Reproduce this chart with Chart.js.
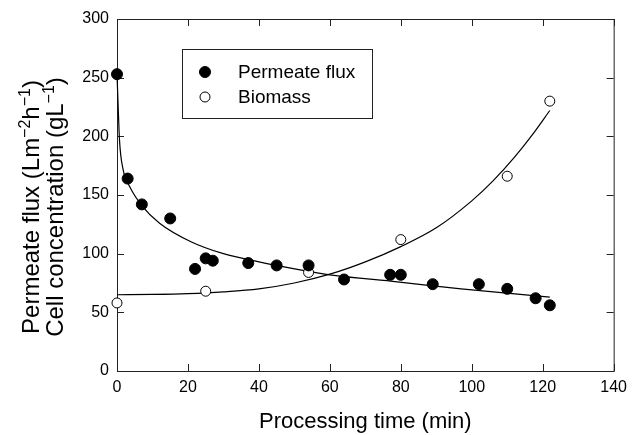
<!DOCTYPE html>
<html>
<head>
<meta charset="utf-8">
<script src="https://cdn.jsdelivr.net/npm/chart.js@4.4.1/dist/chart.umd.min.js"></script>
<style>
  html, body { margin: 0; padding: 0; background: #fff; }
  #wrap { width: 634px; height: 435px; }
</style>
</head>
<body>
<div id="wrap"><canvas id="flux-chart" width="634" height="435"></canvas></div>
<script>
// measured points
const fluxTime  = [0, 3, 7, 15, 22, 25, 27, 37, 45, 54, 64, 77, 80, 89, 102, 110, 118, 122];
const fluxValue = [253, 164, 142, 130, 87, 96, 94, 92, 90, 90, 78, 82, 82, 74, 74, 70, 62, 56];

const biomassTime  = [0, 25, 54, 80, 110, 122];
const biomassValue = [58, 68, 84, 112, 166, 230];

// fitted curves, sampled along the drawn lines
const fluxFitTime  = [0, 0.3, 0.7, 1.7, 3.6, 7, 12, 21, 30, 40, 52, 60, 79, 97, 122];
const fluxFitValue = [253, 228, 197, 172, 157, 141, 126, 110, 100, 93, 86, 82, 76, 70, 63];

const biomassFitTime  = [0, 10, 20, 30, 40, 50, 60, 70, 80, 90, 100, 106, 112, 117, 122];
const biomassFitValue = [65, 65.3, 66, 67.5, 70, 75, 82.5, 93, 106, 122, 145, 162, 182, 201, 222];

const timeTicks  = [0, 20, 40, 60, 80, 100, 120, 140];
const valueTicks = [0, 50, 100, 150, 200, 250, 300];

const FONT = "'Liberation Sans', Arial, Helvetica, sans-serif";

// y title: [text, superscript?]
const yTitleLines = [
  [['Permeate flux (Lm', false], ['\u22122', true], ['h', false], ['\u22121', true], [')', false]],
  [['Cell concentration (gL', false], ['\u22121', true], [')', false]]
];

function pairs(xs, ys) {
  return xs.map((x, i) => ({ x: x, y: ys[i] }));
}

// box around the plot + inward ticks on all four sides
const frameTicks = {
  id: 'frameTicks',
  beforeDatasetsDraw(chart) {
    const { ctx, chartArea: a, scales } = chart;
    const len = 7;
    ctx.save();
    ctx.strokeStyle = '#222';
    ctx.lineWidth = 1;
    ctx.strokeRect(a.left + 0.5, a.top + 0.5, a.right - a.left, a.bottom - a.top);
    ctx.beginPath();
    timeTicks.forEach(v => {
      const px = Math.round(scales.x.getPixelForValue(v)) + 0.5;
      ctx.moveTo(px, a.bottom); ctx.lineTo(px, a.bottom - len);
      ctx.moveTo(px, a.top); ctx.lineTo(px, a.top + len);
    });
    valueTicks.forEach(v => {
      const py = Math.round(scales.y.getPixelForValue(v)) + 0.5;
      ctx.moveTo(a.left, py); ctx.lineTo(a.left + len, py);
      ctx.moveTo(a.right, py); ctx.lineTo(a.right - len, py);
    });
    ctx.stroke();
    ctx.restore();
  }
};

// legend in a box inside the plot
const legendBox = {
  id: 'legendBox',
  afterDraw(chart) {
    const { ctx, chartArea: a } = chart;
    const left = a.left + 65, top = a.top + 30, w = 190, h = 69;
    ctx.save();
    ctx.fillStyle = '#fff';
    ctx.fillRect(left, top, w, h);
    ctx.strokeStyle = '#222';
    ctx.lineWidth = 1;
    ctx.strokeRect(left + 0.5, top + 0.5, w, h);
    [0, 1].forEach((i, row) => {
      const ds = chart.data.datasets[i];
      const cy = top + 23 + row * 25;
      ctx.beginPath();
      ctx.arc(left + 23, cy, ds.pointRadius, 0, Math.PI * 2);
      ctx.fillStyle = ds.backgroundColor;
      ctx.fill();
      ctx.strokeStyle = ds.borderColor;
      ctx.stroke();
      ctx.fillStyle = '#000';
      ctx.font = '19px ' + FONT;
      ctx.textBaseline = 'middle';
      ctx.fillText(ds.label, left + 56, cy + 1);
    });
    ctx.restore();
  }
};

// two-line rotated y title with superscripts
const yTitle = {
  id: 'yTitle',
  afterDraw(chart) {
    const ctx = chart.ctx;
    const mid = (chart.chartArea.top + chart.chartArea.bottom) / 2 + 12;
    const baselines = [39, 63];
    ctx.save();
    ctx.fillStyle = '#000';
    ctx.textBaseline = 'alphabetic';
    yTitleLines.forEach((parts, i) => {
      let total = 0;
      parts.forEach(p => {
        ctx.font = (p[1] ? '16px ' : '24px ') + FONT;
        total += ctx.measureText(p[0]).width;
      });
      ctx.save();
      ctx.translate(baselines[i], mid);
      ctx.rotate(-Math.PI / 2);
      let x = -total / 2;
      parts.forEach(p => {
        ctx.font = (p[1] ? '16px ' : '24px ') + FONT;
        ctx.fillText(p[0], x, p[1] ? -9 : 0);
        x += ctx.measureText(p[0]).width;
      });
      ctx.restore();
    });
    ctx.restore();
  }
};

new Chart('flux-chart', {
  type: 'scatter',
  data: {
    datasets: [
      {
        label: 'Permeate flux',
        data: pairs(fluxTime, fluxValue),
        backgroundColor: '#000',
        borderColor: '#000',
        pointRadius: 5.5,
        borderWidth: 1,
        order: 0,
        clip: false
      },
      {
        label: 'Biomass',
        data: pairs(biomassTime, biomassValue),
        backgroundColor: '#fff',
        borderColor: '#000',
        pointRadius: 5,
        borderWidth: 1,
        order: 0,
        clip: false
      },
      {
        label: 'Permeate flux fit',
        data: pairs(fluxFitTime, fluxFitValue),
        showLine: true,
        pointRadius: 0,
        borderColor: '#000',
        borderWidth: 1.2,
        cubicInterpolationMode: 'monotone',
        order: 1,
        clip: false
      },
      {
        label: 'Biomass fit',
        data: pairs(biomassFitTime, biomassFitValue),
        showLine: true,
        pointRadius: 0,
        borderColor: '#000',
        borderWidth: 1.2,
        cubicInterpolationMode: 'monotone',
        order: 1,
        clip: false
      }
    ]
  },
  options: {
    responsive: false,
    animation: false,
    layout: { padding: { top: 19, right: 14, left: 0, bottom: 0 } },
    plugins: {
      legend: { display: false },
      tooltip: { enabled: false }
    },
    scales: {
      x: {
        type: 'linear',
        min: 0,
        max: 140,
        afterBuildTicks: s => { s.ticks = timeTicks.map(v => ({ value: v })); },
        afterFit: s => { s.height = 64; },
        grid: { display: false, drawTicks: false },
        border: { display: false },
        ticks: { color: '#000', padding: 7, maxRotation: 0, font: { size: 16, family: FONT } },
        title: {
          display: true,
          text: 'Processing time (min)',
          color: '#000',
          font: { size: 22, family: FONT },
          padding: { top: 0, bottom: 0 }
        }
      },
      y: {
        type: 'linear',
        min: 0,
        max: 300,
        afterBuildTicks: s => { s.ticks = valueTicks.map(v => ({ value: v })); },
        afterFit: s => { s.width = 117; },
        grid: { display: false, drawTicks: false },
        border: { display: false },
        ticks: { color: '#000', padding: 8, font: { size: 16, family: FONT } }
      }
    }
  },
  plugins: [frameTicks, legendBox, yTitle]
});
</script>
</body>
</html>
